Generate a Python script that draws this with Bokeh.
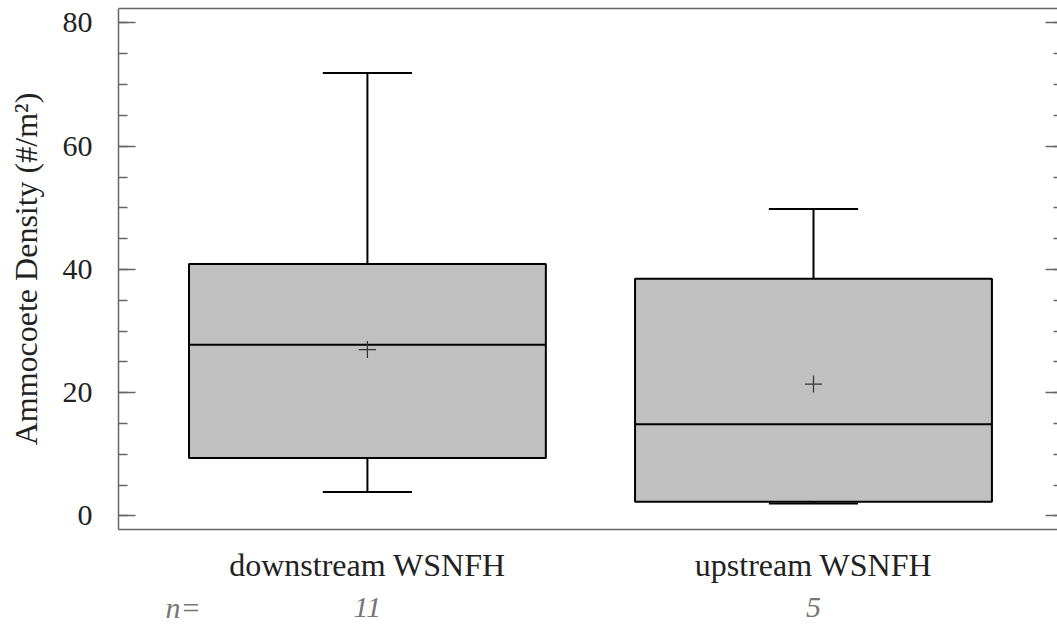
from bokeh.plotting import figure
from bokeh.layouts import column
from bokeh.models import LinearAxis, FixedTicker, Range1d, ColumnDataSource
from bokeh.core.properties import value
from bokeh.embed import file_html
from bokeh.resources import INLINE

# ---- data ----
groups = ["downstream WSNFH", "upstream WSNFH"]
n_obs = [11, 5]
lower = [3.9, 2.0]
q1 = [9.4, 2.3]
median = [27.8, 14.9]
q3 = [40.9, 38.5]
upper = [71.9, 49.8]
mean = [27.0, 21.4]
y_ticks = [0, 20, 40, 60, 80]

pos = [i + 1 for i in range(len(groups))]
BOX_HALF = 0.4
CAP_HALF = 0.1

src = ColumnDataSource(dict(
    x=pos, lower=lower, q1=q1, median=median, q3=q3, upper=upper, mean=mean,
    bl=[x - BOX_HALF for x in pos], br=[x + BOX_HALF for x in pos],
    cl=[x - CAP_HALF for x in pos], cr=[x + CAP_HALF for x in pos],
))

FONT = "Liberation Serif"
AXIS_GRAY = "#666666"
minor = list(range(-5, 85, 5))
Y0, Y1 = -2.2, 82.35
xr = Range1d(0.442, 2.547)

p = figure(width=1057, height=590,
           x_range=xr, y_range=Range1d(Y0, Y1),
           output_backend="svg", toolbar_location=None,
           min_border_left=118, min_border_right=0,
           min_border_top=8, min_border_bottom=61)
p.outline_line_color = None
p.grid.visible = False
p.background_fill_color = "white"
p.border_fill_color = "white"

xa = p.below[0]
ya = p.left[0]

# whiskers
p.segment(x0="x", y0="q3", x1="x", y1="upper", source=src, line_color="black", line_width=2)
p.segment(x0="x", y0="q1", x1="x", y1="lower", source=src, line_color="black", line_width=2)
p.segment(x0="cl", y0="upper", x1="cr", y1="upper", source=src, line_color="black", line_width=2)
p.segment(x0="cl", y0="lower", x1="cr", y1="lower", source=src, line_color="black", line_width=2)
# boxes
p.quad(left="bl", right="br", bottom="q1", top="q3", source=src,
       fill_color="#c0c0c0", line_color="black", line_width=2)
# median
p.segment(x0="bl", y0="median", x1="br", y1="median", source=src, line_color="black", line_width=2)
# mean
p.scatter(x="x", y="mean", source=src, marker="cross", size=17,
          line_color="#333333", line_width=1.2)

# ---- left axis ----
ya.ticker = FixedTicker(ticks=y_ticks, minor_ticks=minor)
ya.axis_label = "Ammocoete Density (#/m²)"
ya.axis_label_text_font = FONT
ya.axis_label_text_font_size = "32px"
ya.axis_label_text_font_style = "normal"
ya.axis_label_text_color = "#222222"
ya.axis_label_standoff = 16
ya.major_label_text_font = FONT
ya.major_label_text_font_size = "30px"
ya.major_label_text_color = "#222222"
ya.major_label_standoff = 26
ya.major_tick_in = 17
ya.major_tick_out = 0
ya.minor_tick_in = 9
ya.minor_tick_out = 0
ya.axis_line_color = AXIS_GRAY
ya.major_tick_line_color = AXIS_GRAY
ya.minor_tick_line_color = AXIS_GRAY
ya.axis_line_width = 1.5
ya.major_tick_line_width = 1.5
ya.minor_tick_line_width = 1.5

# ---- bottom axis: group names ----
xa.ticker = FixedTicker(ticks=pos, minor_ticks=[])
xa.major_label_overrides = {x: g for x, g in zip(pos, groups)}
xa.major_label_text_font = FONT
xa.major_label_text_font_size = "32px"
xa.major_label_text_color = "#222222"
xa.major_label_standoff = 17
xa.major_tick_in = 0
xa.major_tick_out = 0
xa.axis_line_color = AXIS_GRAY
xa.axis_line_width = 1.5

# ---- right axis (inward ticks only) ----
ra = LinearAxis(ticker=FixedTicker(ticks=y_ticks, minor_ticks=minor))
ra.major_label_overrides = {t: "" for t in y_ticks}
ra.major_label_standoff = 0
ra.major_tick_in = 12
ra.major_tick_out = 0
ra.minor_tick_in = 4
ra.minor_tick_out = 0
ra.axis_line_color = None
ra.major_tick_line_color = AXIS_GRAY
ra.minor_tick_line_color = AXIS_GRAY
ra.major_tick_line_width = 1.5
ra.minor_tick_line_width = 1.5
p.add_layout(ra, "right")

# ---- top frame line ----
ta = LinearAxis(ticker=FixedTicker(ticks=[], minor_ticks=[]))
ta.major_label_standoff = 0
ta.major_tick_out = 0
ta.minor_tick_out = 0
ta.axis_line_color = AXIS_GRAY
ta.axis_line_width = 1.5
p.add_layout(ta, "above")

# ---- sample-size row (own strip sharing the x scale) ----
n_pos = [0.587] + pos
n_labels = ["n="] + [str(n) for n in n_obs]
p2 = figure(width=1057, height=34, x_range=xr, y_range=Range1d(0, 34),
            output_backend="svg", toolbar_location=None, title=None,
            x_axis_location=None, y_axis_location=None,
            min_border_left=118, min_border_right=0,
            min_border_top=0, min_border_bottom=0)
p2.outline_line_color = None
p2.grid.visible = False
p2.border_fill_color = "white"
nsrc = ColumnDataSource(dict(x=n_pos, y=[17] * len(n_pos), t=n_labels))
p2.text(x="x", y="y", text="t", source=nsrc,
        text_font=value(FONT), text_font_size="30px", text_font_style="italic",
        text_color="#777777", text_align="center", text_baseline="alphabetic")

layout = column(p, p2, spacing=0)
open("out.html", "w").write(file_html(layout, INLINE))
